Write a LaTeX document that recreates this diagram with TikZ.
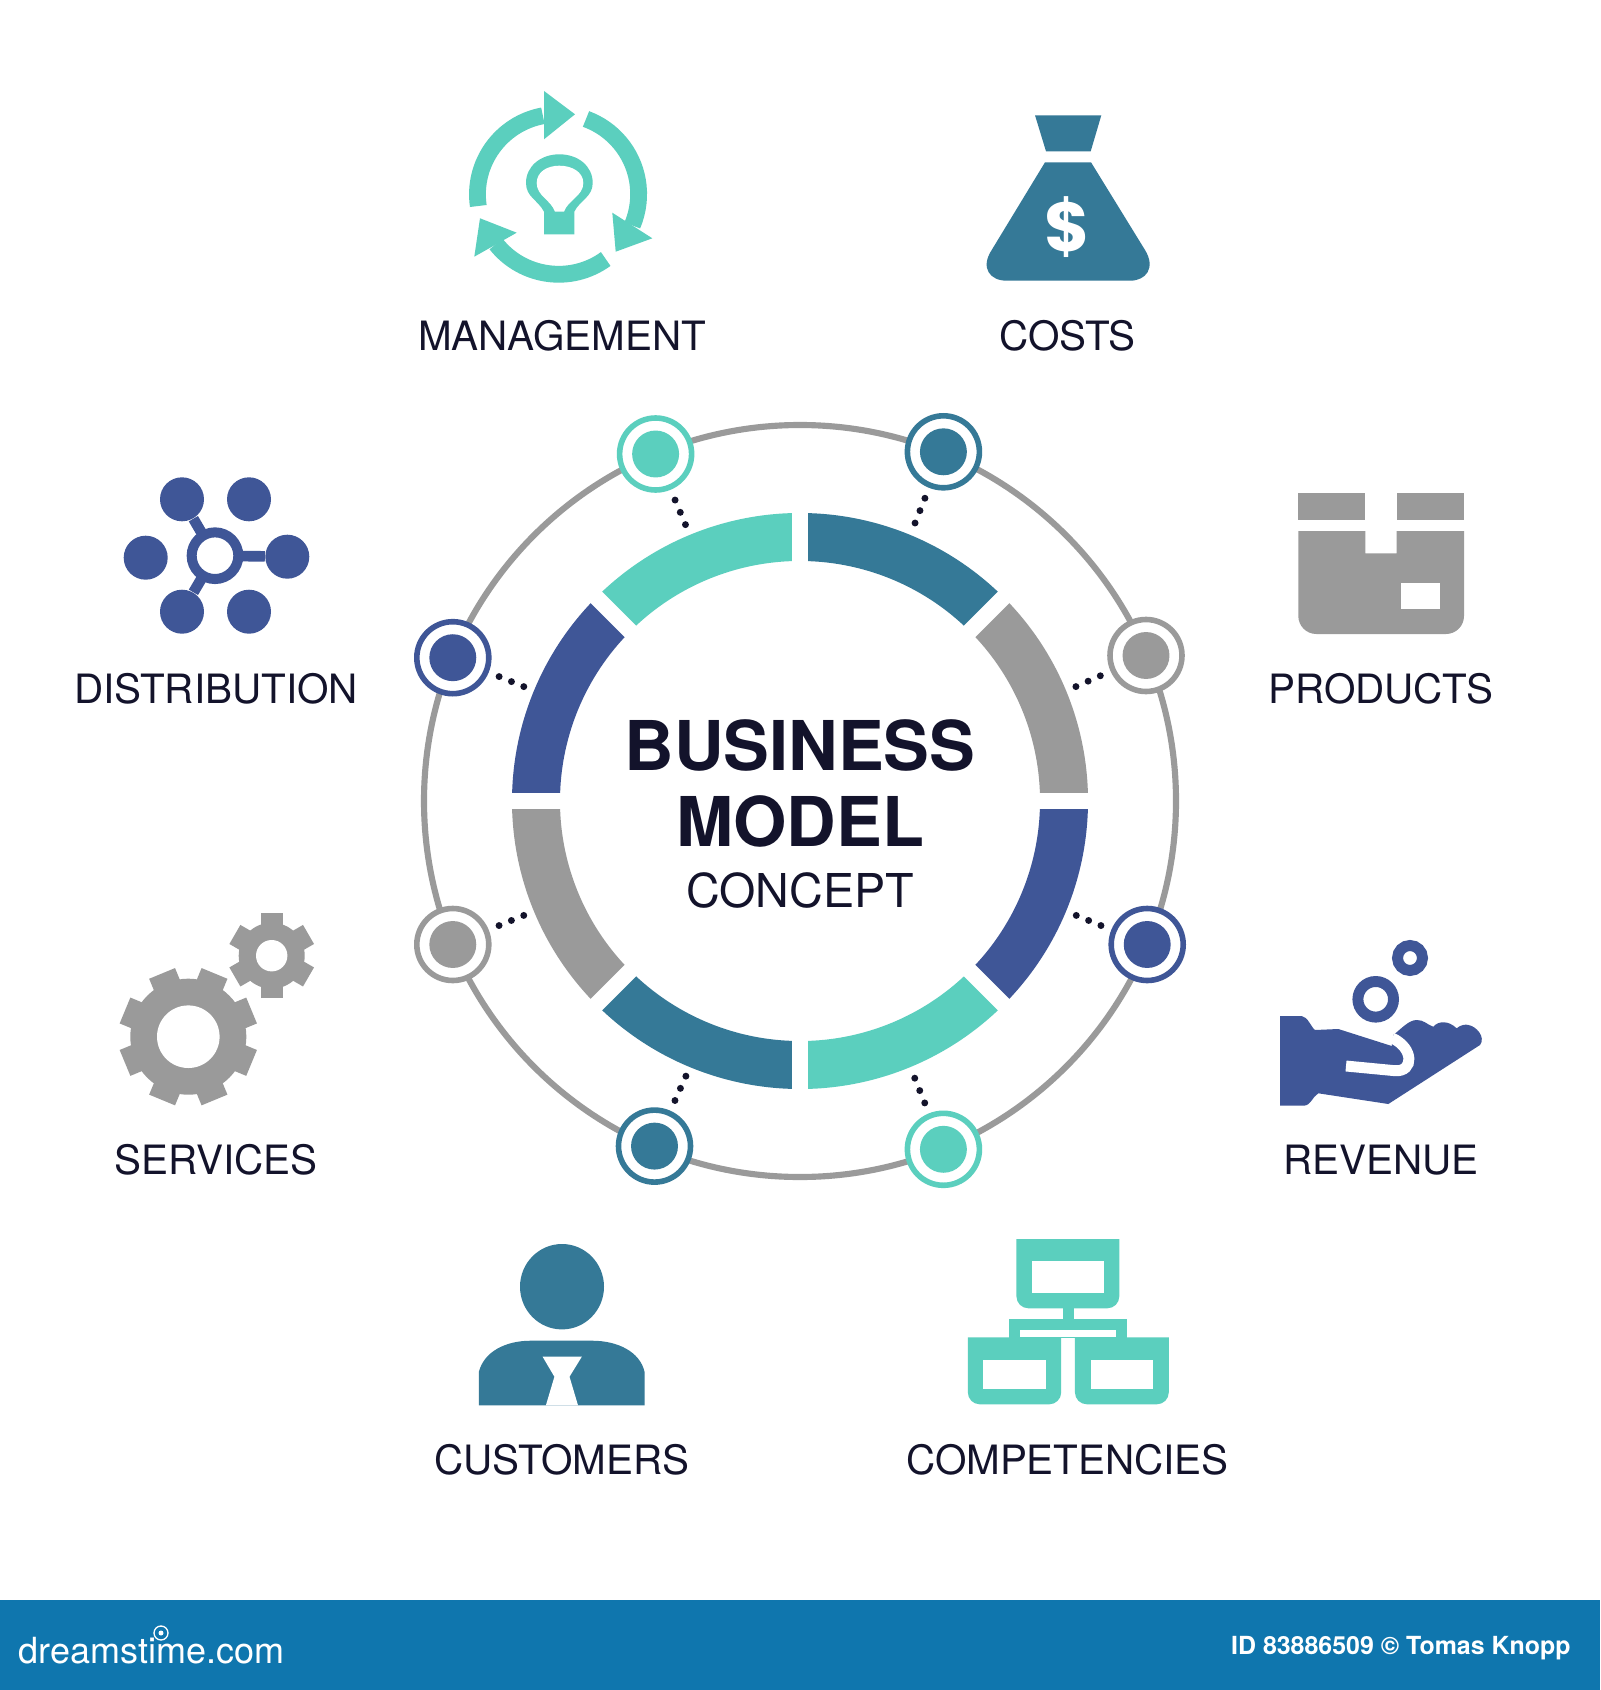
\documentclass[tikz,border=0pt]{standalone}
\usepackage{fontspec}
\setmainfont{TeX Gyre Heros}
\newfontfamily\heavyfont{Poppins}
\definecolor{turq}{RGB}{91,207,190}
\definecolor{deepteal}{RGB}{53,121,151}
\definecolor{midgrey}{RGB}{154,154,154}
\definecolor{navy}{RGB}{63,86,151}
\definecolor{inkblue}{RGB}{19,19,43}
\definecolor{barblue}{RGB}{15,118,174}
\tikzset{
    every picture/.style={line width=0.75pt},
    labeltext/.style={anchor=base,inner sep=0pt,text=inkblue,font=\fontsize{30.3}{36}\selectfont},
    titlebold/.style={anchor=base,inner sep=0pt,text=inkblue,font=\bfseries\fontsize{51.5}{60}\selectfont},
    segarc/.style={line width=36pt},
    gapbar/.style={white,line width=12pt},
    ringnode/.style={circle,draw=#1,fill=white,line width=4.2pt,minimum size=54pt,inner sep=0pt,
        path picture={\fill[#1] (path picture bounding box.center) circle (17.6pt);}},
    dotlink/.style={inkblue,line width=5.2pt,line cap=round,dash pattern=on 0pt off 10pt,shorten <=8.4pt},
    hubdot/.style={circle,fill=navy,minimum size=33pt,inner sep=0pt},
    hubspoke/.style={navy,line width=8pt},
    arrowarc/.style={turq,line width=12.6pt},
    coinring/.style={navy,line width=8.2pt},
}
\begin{document}
\begin{tikzpicture}[x=0.75pt,y=0.75pt,yscale=-1,xscale=1]
    \useasboundingbox (0,0) rectangle (1600,1690);
    \fill[white] (0,0) rectangle (1600,1690);

    %Shape: Outer ring
    \draw [midgrey,line width=4.6pt] (800,801) circle (376);

    %Shape: Ring segments
    \draw [segarc,deepteal] (800,537) arc (-90:-45:264);
    \draw [segarc,midgrey] (986.7,614.3) arc (-45:0:264);
    \draw [segarc,navy] (1064,801) arc (0:45:264);
    \draw [segarc,turq] (986.7,987.7) arc (45:90:264);
    \draw [segarc,deepteal] (800,1065) arc (90:135:264);
    \draw [segarc,midgrey] (613.3,987.7) arc (135:180:264);
    \draw [segarc,navy] (536,801) arc (180:225:264);
    \draw [segarc,turq] (613.3,614.3) arc (225:270:264);
    %Straight Lines: gaps between segments
    \draw [gapbar] (800,505) -- (800,1097);
    \draw [gapbar] (504,801) -- (1096,801);
    \draw [gapbar] (590.7,591.7) -- (1009.3,1010.3);
    \draw [gapbar] (590.7,1010.3) -- (1009.3,591.7);

    %Shape: Ring nodes
    \node [ringnode=turq] (ringmanagement) at (655.6,454) {};
    \node [ringnode=deepteal] (ringcosts) at (943.4,451.8) {};
    \node [ringnode=midgrey] (ringproducts) at (1146,655.5) {};
    \node [ringnode=navy] (ringrevenue) at (1147.2,944.5) {};
    \node [ringnode=turq] (ringcompetencies) at (943.4,1149.3) {};
    \node [ringnode=deepteal] (ringcustomers) at (654.5,1146.1) {};
    \node [ringnode=midgrey] (ringservices) at (452.8,944.5) {};
    \node [ringnode=navy] (ringdistribution) at (452.8,657.7) {};

    \coordinate (segmanagement) at (687.5,529.4);
    \coordinate (segcosts) at (912.5,529.4);
    \coordinate (segproducts) at (1071.6,688.5);
    \coordinate (segrevenue) at (1071.6,913.5);
    \coordinate (segcompetencies) at (912.5,1072.6);
    \coordinate (segcustomers) at (687.5,1072.6);
    \coordinate (segservices) at (528.4,913.5);
    \coordinate (segdistribution) at (528.4,688.5);

    %Straight Lines: dotted links
    \draw [dotlink] (ringmanagement) -- (segmanagement);
    \draw [dotlink] (ringcosts) -- (segcosts);
    \draw [dotlink] (ringproducts) -- (segproducts);
    \draw [dotlink] (ringrevenue) -- (segrevenue);
    \draw [dotlink] (ringcompetencies) -- (segcompetencies);
    \draw [dotlink] (ringcustomers) -- (segcustomers);
    \draw [dotlink] (ringservices) -- (segservices);
    \draw [dotlink] (ringdistribution) -- (segdistribution);

    % Text Node
    \node [titlebold] (titleone) at (800,770) {BUSINESS};
    % Text Node
    \node [titlebold] (titletwo) at (800,846.5) {MODEL};
    % Text Node
    \node [anchor=base,inner sep=0pt,text=inkblue,font=\fontsize{35}{42}\selectfont] (titlethree) at (800,907.5) {CONCEPT};

    % Text Node
    \node [labeltext] (management) at (562,351) {MANAGEMENT};
    % Text Node
    \node [labeltext] (costs) at (1067.5,351) {COSTS};
    % Text Node
    \node [labeltext] (distribution) at (216,703) {DISTRIBUTION};
    % Text Node
    \node [labeltext] (products) at (1381,703) {PRODUCTS};
    % Text Node
    \node [labeltext] (services) at (216,1174) {SERVICES};
    % Text Node
    \node [labeltext] (revenue) at (1381,1174) {REVENUE};
    % Text Node
    \node [labeltext] (customers) at (562,1474) {CUSTOMERS};
    % Text Node
    \node [labeltext] (competencies) at (1067.5,1474) {COMPETENCIES};

    %Icon: arrows and bulb
    \draw [arrowarc] (478.3,206) arc (171.7:259.5:80);
    \fill [turq] (544,91) -- (575,114.3) -- (544,139.3) -- cycle;
    \draw [arrowarc] (586,119) arc (-70:23:80);
    \fill [turq] (612.3,212.7) -- (652.3,238.3) -- (615.7,251.7) -- cycle;
    \draw [arrowarc] (605.7,259) arc (54:141.6:80);
    \fill [turq] (480,218.3) -- (516.7,232.7) -- (474.3,256.7) -- cycle;
    \fill [turq] (544,234.3) -- (544,211.7) .. controls (538,200) and (526,197) .. (526,183) .. controls (526,166) and (541,154.3) .. (559.3,154.3) .. controls (578,154.3) and (592.7,166) .. (592.7,183) .. controls (592.7,197) and (580,200) .. (574.3,211.7) -- (574.3,234.3) -- cycle;
    \fill [white] (555,211.7) .. controls (551,200) and (536.7,196) .. (536.7,183) .. controls (536.7,172) and (547,165.7) .. (559.3,165.7) .. controls (572,165.7) and (583.3,172) .. (583.3,183) .. controls (583.3,196) and (568,200) .. (564,211.7) -- cycle;

    %Icon: money bag
    \fill [deepteal] (1035,115.3) -- (1101.3,115.3) -- (1090.7,151.3) -- (1046,151.3) -- cycle;
    \fill [deepteal] (1045,162.3) -- (1091,162.3) -- (1145,250) .. controls (1156,268) and (1146,280.7) .. (1130,280.7) -- (1006.7,280.7) .. controls (990,280.7) and (980,268) .. (991.7,250) -- cycle;
    \node [text=white,inner sep=0pt,font=\heavyfont\bfseries\fontsize{52}{60}\selectfont] (dollar) at (1067.7,226.7) {\$};

    %Icon: distribution hub
    \node [circle,draw=navy,fill=white,line width=7.5pt,minimum size=35pt,inner sep=0pt,outer sep=0pt] (hubcore) at (215,555.7) {};
    \node [hubdot] (hubtl) at (182,499.3) {};
    \node [hubdot] (hubtr) at (249,499.3) {};
    \node [hubdot] (hubl) at (145.7,557.7) {};
    \node [hubdot] (hubr) at (287.3,556.7) {};
    \node [hubdot] (hubbl) at (182,611.7) {};
    \node [hubdot] (hubbr) at (249,611.7) {};
    \draw [hubspoke] (hubcore) -- (hubtl);
    \draw [hubspoke] (hubcore) -- (hubr);
    \draw [hubspoke] (hubcore) -- (hubbl);

    %Icon: box
    \fill [midgrey] (1298.3,493.3) rectangle (1365.3,520);
    \fill [midgrey] (1396.7,493.3) rectangle (1464,520);
    \fill [midgrey] (1298.3,531) -- (1365.3,531) -- (1365.3,553.3) -- (1396.7,553.3) -- (1396.7,531) -- (1464,531) -- (1464,616) arc (0:90:18) -- (1316.3,634) arc (90:180:18) -- cycle;
    \fill [white] (1401.3,582.7) rectangle (1440,609.3);

    %Icon: gears
    \fill [midgrey] (188.3,1036.7) circle (58);
    \draw [midgrey,line width=21pt] (188.3,1036.7) ++(22.5:68.5) -- ++(202.5:137);
    \draw [midgrey,line width=21pt] (188.3,1036.7) ++(67.5:68.5) -- ++(247.5:137);
    \draw [midgrey,line width=21pt] (188.3,1036.7) ++(112.5:68.5) -- ++(292.5:137);
    \draw [midgrey,line width=21pt] (188.3,1036.7) ++(157.5:68.5) -- ++(337.5:137);
    \fill [white] (188.3,1036.7) circle (31.3);
    \fill [midgrey] (271.7,955.7) circle (33);
    \draw [midgrey,line width=16.5pt] (271.7,955.7) ++(90:42.5) -- ++(270:85);
    \draw [midgrey,line width=16.5pt] (271.7,955.7) ++(30:42.5) -- ++(210:85);
    \draw [midgrey,line width=16.5pt] (271.7,955.7) ++(150:42.5) -- ++(330:85);
    \fill [white] (271.7,955.7) circle (15.7);

    %Icon: hand and coins
    \draw [coinring] (1375.7,999.3) circle (17.8);
    \draw [coinring] (1410,958) circle (12.5);
    \fill [navy] (1280,1016) -- (1301.7,1016) .. controls (1308,1017) and (1311,1027) .. (1315,1030) -- (1338.3,1029) -- (1391.7,1046) -- (1393.3,1035) .. controls (1402,1028) and (1409,1020) .. (1416.7,1020) .. controls (1424,1020) and (1426,1024) .. (1433.3,1026.7) .. controls (1438,1021) and (1448,1020) .. (1456.7,1028.3) .. controls (1460,1025) and (1466,1024) .. (1468.3,1025) .. controls (1476,1026) and (1486,1037) .. (1480,1045) -- (1388.3,1104) -- (1318.3,1093.3) .. controls (1312,1097) and (1311,1105.7) .. (1303.3,1105.7) -- (1280,1105.7) -- cycle;
    \draw [white,line width=8.2pt] (1346,1066) -- (1395,1070.7) .. controls (1414,1072) and (1414,1048) .. (1392,1038);

    %Icon: person
    \fill [deepteal] (562,1286.7) ellipse (42 and 42.7);
    \fill [deepteal] (478.9,1405.3) -- (478.9,1371.7) .. controls (484,1352) and (505,1340.7) .. (530.8,1340.7) -- (592,1340.7) .. controls (618,1340.7) and (640,1352) .. (644.5,1371.7) -- (644.5,1405.3) -- cycle;
    \fill [white] (542.6,1356.7) -- (581.8,1356.7) -- (569.5,1376.7) -- (578,1405.3) -- (545.9,1405.3) -- (554.4,1376.7) -- cycle;

    %Icon: org chart
    \fill [turq] (1016.4,1239) -- (1119.3,1239) -- (1119.3,1296.3) arc (0:90:12) -- (1028.4,1308.3) arc (90:180:12) -- cycle;
    \fill [white] (1032,1261.3) rectangle (1104.2,1292.7);
    \fill [turq] (1063,1308) rectangle (1074,1320);
    \fill [turq] (1008.8,1319) rectangle (1127.3,1338);
    \fill [white] (1020.2,1330) rectangle (1116.4,1337.3);
    \fill [turq] (967.8,1337.3) -- (1061.2,1337.3) -- (1061.2,1392.3) arc (0:90:12) -- (979.8,1404.3) arc (90:180:12) -- cycle;
    \fill [white] (982.9,1360) rectangle (1046.1,1389);
    \fill [turq] (1074.9,1337.3) -- (1168.8,1337.3) -- (1168.8,1392.3) arc (0:90:12) -- (1086.9,1404.3) arc (90:180:12) -- cycle;
    \fill [white] (1090.5,1360) rectangle (1153.2,1389);

    %Shape: Footer bar
    \fill [barblue] (0,1600) rectangle (1600,1690);
    % Text Node
    \node [anchor=base west,inner sep=0pt,text=white,font=\fontsize{27}{32}\selectfont] (sitename) at (18,1663) {dreamstime.com};
    \draw [white,line width=1pt] (161,1633) circle (7);
    \fill [white] (161,1633) circle (2.5);
    % Text Node
    \node [anchor=base east,inner sep=0pt,text=white,font=\bfseries\fontsize{18.7}{24}\selectfont] (creditline) at (1571,1654) {ID 83886509 © Tomas Knopp};

\end{tikzpicture}
\end{document}
